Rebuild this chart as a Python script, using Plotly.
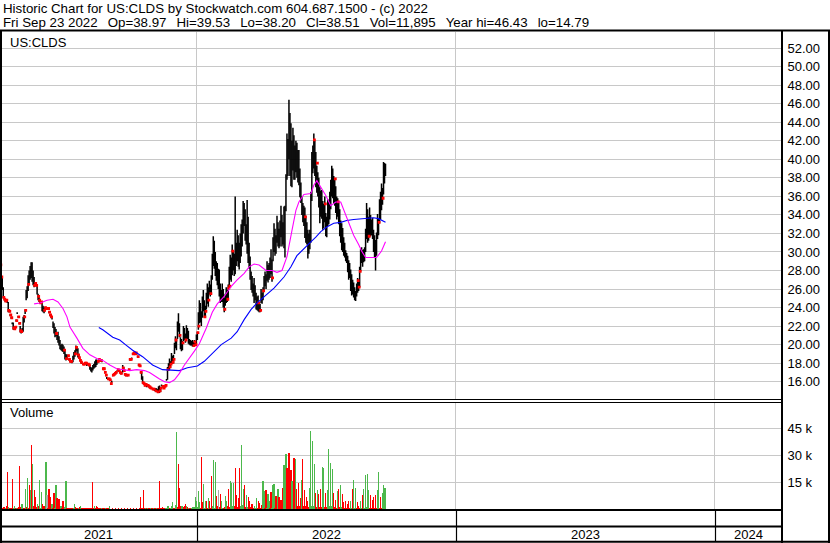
import pandas as pd
import plotly.graph_objects as go

# ---------------- data ----------------
last_day = "2022-09-23"

high = [
    28.9, 28.0, 27.4, 26.2, 25.0, 24.8, 24.9, 24.7, 24.6, 23.7,
    23.3, 23.0, 22.4, 22.4, 21.8, 22.0, 22.7, 23.5, 23.1, 22.4,
    22.0, 21.6, 21.8, 23.0, 23.2, 23.8, 25.9, 26.3, 27.5, 28.0,
    28.5, 28.9, 28.9, 28.0, 27.3, 26.7, 26.5, 26.5, 25.5, 25.3,
    24.6, 24.7, 24.6, 24.2, 24.0, 24.1, 24.0, 24.0, 24.0, 23.6,
    23.3, 23.1, 22.9, 22.5, 22.3, 21.9, 21.7, 21.3, 21.4, 20.9,
    20.5, 20.0, 20.1, 20.0, 19.8, 19.5, 19.0, 18.9, 18.9, 18.5,
    18.3, 18.3, 18.2, 18.8, 19.2, 19.4, 19.9, 19.8, 19.6, 19.0,
    18.4, 18.2, 18.1, 18.0, 18.0, 18.1, 18.1, 17.9, 18.0, 17.9,
    17.8, 17.6, 17.5, 17.8, 17.9, 18.2, 18.4, 18.4, 18.3, 18.5,
    18.4, 18.4, 18.3, 17.5, 17.5, 17.1, 16.8, 16.5, 16.4, 16.4,
    16.3, 15.9, 16.1, 16.8, 16.9, 17.0, 17.1, 17.2, 17.4, 17.3,
    17.1, 17.0, 17.0, 17.8, 17.6, 16.9, 16.8, 16.8, 16.8, 17.4,
    18.5, 18.5, 18.6, 19.1, 19.2, 19.1, 19.2, 19.1, 18.8, 17.9,
    17.8, 17.1, 17.1, 16.6, 15.9, 15.7, 15.8, 15.6, 15.7, 15.6,
    15.5, 15.4, 15.4, 15.3, 15.3, 15.3, 15.3, 15.3, 15.2, 15.5,
    15.6, 15.4, 15.7, 15.6, 15.4, 15.6, 15.7, 16.3, 17.6, 18.0,
    18.5, 18.2, 19.1, 18.8, 18.9, 20.2, 20.9, 20.6, 22.5, 23.4,
    22.3, 20.8, 20.6, 20.4, 22.0, 21.8, 21.2, 22.1, 21.8, 21.5,
    20.6, 20.5, 20.4, 20.5, 20.3, 20.5, 20.4, 21.1, 21.4, 23.5,
    24.8, 24.5, 23.6, 25.2, 25.9, 24.8, 24.2, 25.6, 26.6, 26.2,
    26.9, 26.5, 27.5, 29.8, 31.7, 31.2, 30.0, 29.0, 28.8, 28.2,
    28.1, 26.6, 25.9, 26.6, 26.0, 25.1, 25.5, 26.2, 25.9, 26.5,
    28.4, 29.7, 29.4, 30.8, 30.2, 29.8, 36.0, 31.0, 32.4, 31.8,
    31.0, 32.0, 33.0, 33.5, 35.5, 35.3, 34.6, 33.0, 35.6, 33.8,
    31.0, 29.5, 27.9, 27.4, 26.6, 27.2, 26.4, 25.6, 25.2, 25.3,
    24.6, 24.4, 26.0, 25.6, 26.2, 27.4, 27.9, 27.6, 29.0, 28.6,
    28.8, 29.4, 30.3, 29.2, 31.6, 33.1, 32.5, 31.8, 33.9, 33.2,
    32.5, 33.4, 35.0, 34.0, 33.2, 34.9, 35.0, 38.4, 42.8, 42.2,
    46.43, 45.0, 43.9, 42.0, 43.4, 42.6, 41.5, 42.0, 41.8, 41.0,
    41.0, 39.0, 37.5, 36.0, 35.3, 35.0, 34.8, 33.9, 33.2, 32.4,
    32.0, 32.4, 36.5, 40.8, 41.5, 42.8, 42.0, 40.8, 39.3, 38.6,
    38.0, 37.0, 36.6, 36.7, 35.5, 35.2, 36.0, 34.2, 33.8, 35.7,
    35.4, 36.5, 37.8, 39.3, 39.0, 38.2, 37.9, 37.1, 36.0, 35.8,
    35.3, 34.6, 33.4, 33.1, 32.6, 31.6, 31.0, 30.2, 29.9, 29.6,
    29.1, 28.8, 28.1, 27.6, 27.0, 26.7, 26.2, 25.8, 26.6, 27.2,
    27.0, 28.4, 30.3, 30.5, 30.2, 30.3, 30.5, 32.5, 35.3, 34.6,
    33.8, 34.8, 34.0, 33.5, 33.7, 32.4, 31.8, 31.3, 32.1, 34.1,
    33.6, 35.7, 36.5, 37.4, 36.9, 39.7, 39.6, 39.53,
]

low = [
    27.0, 26.2, 25.9, 25.0, 24.8, 24.6, 24.7, 24.5, 23.5, 23.5,
    23.1, 22.8, 22.2, 21.6, 21.6, 21.8, 22.5, 23.3, 22.9, 22.2,
    21.3, 21.2, 21.3, 21.4, 22.4, 23.3, 24.8, 25.0, 25.8, 26.5,
    27.0, 27.2, 26.8, 26.4, 26.2, 26.5, 26.3, 25.4, 24.8, 24.6,
    24.4, 24.5, 23.6, 23.5, 23.4, 23.6, 23.8, 23.8, 23.8, 23.4,
    23.1, 22.9, 22.7, 21.8, 21.2, 20.8, 20.9, 20.5, 20.2, 19.9,
    19.5, 19.4, 19.3, 19.2, 19.0, 18.4, 18.3, 18.4, 18.7, 18.3,
    18.1, 18.1, 18.0, 18.1, 18.4, 18.7, 19.0, 19.3, 18.6, 18.5,
    18.2, 18.0, 17.9, 17.8, 17.8, 17.9, 17.9, 17.7, 17.8, 17.7,
    17.3, 17.1, 17.0, 17.2, 17.4, 17.5, 17.6, 17.8, 18.0, 18.3,
    18.2, 18.2, 18.1, 17.3, 17.3, 16.9, 16.6, 16.3, 16.2, 16.2,
    16.1, 15.7, 15.9, 16.6, 16.7, 16.8, 16.9, 17.0, 17.2, 17.1,
    16.9, 16.8, 16.8, 17.0, 17.1, 16.7, 16.6, 16.6, 16.6, 17.2,
    18.3, 18.3, 18.4, 18.9, 19.0, 18.9, 19.0, 18.9, 18.6, 17.7,
    17.6, 16.9, 16.2, 15.8, 15.7, 15.5, 15.6, 15.4, 15.5, 15.4,
    15.3, 15.2, 15.2, 15.1, 15.1, 15.0, 14.9, 14.9, 14.8, 14.8,
    14.79, 14.9, 15.5, 15.4, 15.2, 15.4, 15.5, 16.1, 16.2, 17.2,
    17.3, 17.5, 18.0, 17.9, 18.0, 19.0, 19.6, 19.4, 20.6, 21.4,
    20.8, 19.5, 19.3, 19.4, 20.4, 20.5, 20.2, 20.6, 20.6, 20.1,
    20.0, 19.9, 19.9, 19.8, 19.8, 19.9, 19.9, 20.1, 20.5, 21.6,
    22.3, 22.4, 22.0, 22.9, 23.6, 22.9, 22.9, 23.8, 24.4, 24.1,
    25.4, 25.2, 25.5, 27.0, 28.5, 28.2, 27.4, 26.9, 26.4, 26.0,
    25.2, 24.5, 24.6, 24.6, 24.0, 23.5, 24.2, 24.5, 24.6, 24.8,
    26.0, 27.0, 26.8, 27.5, 28.0, 27.4, 27.6, 28.5, 29.0, 28.4,
    28.1, 28.8, 29.5, 30.6, 32.0, 32.8, 31.2, 30.8, 29.8, 28.8,
    28.2, 27.0, 25.9, 25.6, 25.2, 24.5, 24.8, 23.8, 23.7, 23.6,
    23.5, 23.5, 24.5, 24.4, 24.8, 25.8, 26.3, 26.0, 26.9, 26.7,
    27.0, 27.2, 27.6, 26.8, 29.0, 30.0, 29.6, 29.8, 31.0, 30.6,
    30.4, 30.6, 31.6, 30.6, 30.8, 30.4, 29.4, 34.4, 37.8, 38.2,
    40.0, 38.2, 37.1, 37.0, 38.8, 37.8, 37.8, 38.6, 38.0, 37.5,
    37.2, 35.9, 35.3, 34.0, 33.2, 32.8, 31.5, 31.0, 30.8, 29.3,
    29.8, 30.3, 31.0, 35.5, 38.5, 39.0, 38.2, 37.0, 36.4, 36.0,
    34.8, 33.1, 33.8, 33.6, 32.4, 32.6, 33.2, 31.7, 31.6, 32.8,
    33.0, 33.5, 34.6, 36.0, 35.8, 35.2, 35.0, 34.2, 33.5, 33.8,
    33.0, 31.7, 31.0, 30.2, 30.0, 29.6, 29.4, 29.0, 28.8, 27.8,
    27.0, 27.2, 25.8, 25.3, 25.4, 25.1, 24.8, 24.7, 25.2, 25.6,
    25.8, 26.2, 27.9, 28.8, 28.4, 28.9, 29.0, 30.0, 31.4, 31.0,
    31.2, 31.6, 31.7, 31.8, 31.4, 30.0, 29.4, 28.0, 29.6, 31.4,
    31.8, 33.1, 33.5, 34.5, 35.1, 36.2, 37.4, 38.20,
]

close = [
    28.6, 27.3, 26.0, 25.1, 24.9, 24.7, 24.8, 24.6, 23.7, 23.6,
    23.2, 22.9, 22.3, 21.8, 21.7, 21.9, 22.6, 23.4, 23.0, 22.3,
    21.5, 21.4, 21.6, 22.8, 23.0, 23.7, 25.5, 25.2, 26.5, 27.5,
    28.2, 27.8, 27.0, 26.6, 26.4, 26.6, 26.4, 25.6, 25.2, 24.8,
    24.5, 24.6, 23.9, 23.8, 23.7, 24.0, 23.9, 23.9, 23.9, 23.5,
    23.2, 23.0, 22.8, 22.1, 21.6, 21.5, 21.2, 20.8, 20.5, 20.2,
    19.7, 19.6, 19.5, 19.6, 19.4, 18.6, 18.5, 18.7, 18.8, 18.4,
    18.2, 18.2, 18.1, 18.6, 18.9, 19.0, 19.7, 19.5, 18.9, 18.6,
    18.3, 18.1, 18.0, 17.9, 17.9, 18.0, 18.0, 17.8, 17.9, 17.8,
    17.4, 17.3, 17.2, 17.6, 17.7, 18.0, 18.0, 18.2, 18.2, 18.4,
    18.3, 18.3, 18.2, 17.4, 17.4, 17.0, 16.7, 16.4, 16.3, 16.3,
    16.2, 15.8, 16.0, 16.7, 16.8, 16.9, 17.0, 17.1, 17.3, 17.2,
    17.0, 16.9, 16.9, 17.5, 17.2, 16.8, 16.7, 16.7, 16.7, 17.3,
    18.4, 18.4, 18.5, 19.0, 19.1, 19.0, 19.1, 19.0, 18.7, 17.8,
    17.7, 17.0, 16.4, 15.9, 15.8, 15.6, 15.7, 15.5, 15.6, 15.5,
    15.4, 15.3, 15.3, 15.2, 15.2, 15.1, 15.0, 15.2, 14.9, 15.3,
    15.0, 15.3, 15.6, 15.5, 15.3, 15.5, 15.6, 16.2, 17.3, 17.6,
    17.6, 17.9, 18.6, 18.1, 18.4, 20.0, 20.5, 19.8, 22.2, 21.8,
    21.0, 20.1, 19.6, 20.2, 21.6, 20.7, 20.5, 21.4, 21.1, 20.4,
    20.2, 20.1, 20.0, 20.1, 19.9, 20.3, 20.0, 20.9, 21.3, 22.0,
    23.4, 22.8, 22.3, 24.8, 24.1, 23.0, 23.6, 24.8, 25.3, 24.8,
    25.9, 25.5, 26.8, 29.1, 30.6, 29.4, 28.1, 27.2, 27.0, 26.6,
    25.4, 25.2, 25.0, 25.6, 24.1, 23.8, 24.9, 25.6, 24.9, 26.1,
    26.3, 28.9, 27.0, 30.1, 29.3, 28.1, 30.5, 29.5, 30.8, 30.2,
    29.0, 31.2, 31.8, 32.8, 35.1, 34.0, 32.0, 31.5, 30.2, 29.2,
    28.3, 27.4, 26.5, 26.0, 25.4, 25.6, 25.0, 24.1, 24.9, 24.5,
    23.8, 23.7, 24.9, 25.2, 25.8, 26.9, 27.2, 26.5, 28.1, 27.8,
    28.3, 28.8, 28.5, 27.2, 30.6, 31.7, 30.2, 31.3, 32.1, 30.8,
    31.6, 32.4, 33.3, 31.7, 32.0, 30.5, 34.6, 37.5, 39.6, 41.2,
    42.5, 39.8, 37.2, 40.5, 40.3, 38.9, 40.6, 39.5, 38.9, 38.5,
    38.0, 36.6, 36.2, 34.8, 33.7, 34.0, 33.8, 32.8, 31.7, 31.0,
    30.5, 31.2, 35.8, 40.0, 40.4, 42.1, 40.5, 38.5, 39.6, 36.8,
    35.9, 35.0, 34.5, 33.8, 33.2, 34.4, 35.2, 32.1, 33.0, 33.9,
    35.0, 35.8, 36.7, 38.0, 37.9, 36.6, 37.9, 35.5, 34.4, 35.4,
    34.3, 31.9, 33.1, 30.5, 30.6, 30.0, 29.6, 29.7, 29.4, 28.3,
    27.6, 27.3, 26.7, 26.2, 25.9, 25.8, 25.6, 25.2, 26.0, 26.9,
    26.2, 27.9, 29.6, 29.9, 29.3, 30.0, 30.2, 32.3, 34.3, 32.1,
    31.7, 33.0, 32.4, 32.0, 31.8, 31.0, 30.2, 28.4, 31.7, 32.9,
    33.2, 34.2, 35.7, 35.8, 35.8, 38.6, 38.97, 38.51,
]

# daily volume, thousands of shares
volume_k = [
    7.9, 15.4, 1.0, 1.3, 1.2, 0.8, 2.0, 21.0, 1.3, 1.0,
    0.8, 0.9, 16.9, 1.0, 2.2, 0.8, 1.1, 0.9, 1.2, 24.2,
    1.4, 3.2, 3.0, 1.0, 1.0, 11.6, 1.5, 17.8, 0.8, 13.5,
    11.0, 36.0, 25.3, 2.0, 11.0, 6.9, 1.5, 3.0, 1.7, 16.3,
    1.0, 9.8, 3.2, 0.9, 2.2, 0.8, 26.6, 8.3, 1.0, 11.3,
    6.9, 0.9, 2.8, 1.0, 9.2, 1.0, 13.5, 6.4, 1.0, 5.6,
    1.2, 2.2, 1.0, 5.0, 1.0, 1.4, 16.0, 1.0, 0.9, 0.8,
    0.9, 0.8, 0.9, 0.8, 1.0, 2.8, 1.3, 0.9, 0.8, 0.9,
    1.3, 1.7, 0.9, 0.8, 0.8, 0.7, 0.8, 0.8, 0.7, 0.8,
    0.8, 0.8, 0.9, 15.4, 1.0, 2.2, 1.0, 1.7, 1.5, 1.0,
    0.8, 0.7, 0.6, 0.7, 0.6, 0.7, 0.6, 0.7, 0.6, 0.7,
    2.2, 0.5, 0.5, 0.6, 0.5, 0.5, 0.6, 0.5, 0.5, 0.6,
    0.5, 0.5, 0.6, 0.5, 0.5, 0.6, 0.5, 0.5, 0.6, 0.5,
    0.5, 0.6, 0.5, 0.5, 0.6, 0.5, 0.5, 0.6, 0.5, 0.5,
    0.6, 6.9, 0.7, 0.6, 10.7, 0.8, 1.0, 0.9, 0.8, 0.9,
    0.8, 0.9, 0.8, 0.9, 0.8, 0.9, 0.8, 0.9, 1.0, 0.9,
    16.0, 0.9, 0.8, 1.3, 0.8, 0.9, 0.9, 0.9, 2.2, 1.7,
    0.8, 1.0, 2.2, 4.1, 1.0, 0.9, 2.5, 43.0, 1.5, 25.3,
    12.2, 1.7, 2.2, 2.2, 1.3, 2.0, 3.2, 2.2, 1.3, 1.0,
    0.9, 1.0, 1.0, 1.4, 1.2, 1.5, 6.9, 5.0, 1.5, 10.3,
    4.1, 1.0, 29.4, 4.0, 14.4, 1.0, 5.0, 4.7, 1.0, 6.6,
    5.0, 1.0, 18.6, 2.0, 27.6, 1.0, 26.6, 7.3, 2.0, 11.0,
    1.5, 8.8, 5.0, 1.0, 1.0, 1.5, 7.3, 5.0, 2.0, 11.6,
    1.5, 15.8, 14.8, 2.0, 14.8, 2.0, 22.9, 8.3, 1.5, 6.4,
    22.9, 2.0, 36.0, 2.5, 11.6, 13.5, 1.5, 7.9, 1.5, 6.9,
    5.0, 1.5, 3.2, 2.8, 1.0, 2.2, 1.0, 6.6, 1.0, 4.7,
    3.8, 1.0, 2.6, 1.0, 15.8, 10.3, 1.0, 11.0, 1.0, 8.8,
    5.0, 1.0, 9.8, 1.0, 13.5, 14.4, 1.0, 7.3, 1.0, 11.6,
    6.9, 1.0, 5.4, 1.0, 12.2, 24.8, 1.5, 30.9, 22.9, 2.0,
    31.7, 2.0, 21.9, 15.8, 2.0, 28.5, 2.0, 27.9, 11.6, 2.0,
    14.8, 2.0, 6.4, 16.3, 27.9, 2.0, 11.0, 2.0, 6.9, 5.0,
    1.5, 12.2, 44.0, 2.0, 38.4, 2.0, 25.3, 9.2, 1.5, 10.7,
    8.4, 1.5, 11.6, 1.5, 23.8, 22.9, 1.5, 9.2, 1.5, 10.7,
    33.6, 2.0, 25.7, 2.0, 22.3, 9.2, 1.5, 5.4, 1.0, 10.3,
    11.6, 1.5, 13.5, 1.5, 8.4, 4.1, 1.0, 4.7, 1.0, 3.2,
    4.7, 1.0, 4.7, 1.0, 11.6, 16.7, 1.0, 12.2, 1.0, 4.1,
    1.7, 1.0, 5.0, 1.0, 7.9, 11.6, 1.0, 19.1, 1.5, 19.7,
    11.0, 1.0, 8.3, 1.0, 5.4, 6.9, 1.0, 7.9, 1.0, 10.7,
    21.0, 1.0, 6.9, 1.0, 9.2, 13.5, 12.2, 11.895,
]

# day direction for volume colour: g = up, r = down, n = unchanged
vol_dir = (
    "nrrrrgrrgr" "rrrggrgrrr" "rggrrgrgrr" "grgrrrrgrg" "ggrrrrgnrr"
    "rrgrrggrrr" "rgrrrggrrr" "rrrrggrrrg" "rgrrrrrrrr" "rrrrrgrrrr"
    "rrgrrrgrrr" "grrrrrrrrr" "rrrrrrrrrr" "rrrrrrrrrr" "rrrrrrgrgr"
    "rgrrgrrgrr" "rrrrrrgggg" "rgggrrggrr" "rrggrrrgrg" "rrgggggggg"
    "grrrgggrrg" "rrrggggrrn" "rrggrrggrr" "rggggrrrrr" "rggggrrggr"
    "rrrrrgggrr" "rrrgggrrgg" "grrgggrrrg" "rrrrrgggrr" "rrrggrrgrr"
    "rrrgrrrrrr" "rggggggrrg" "rrrrggrrrg" "gggggrrrrg" "rrggrrrrrr"
    "rrggrgggrr" "rrggrggggg" "grrrrrrrrg" "grrrgggg"
)

# moving averages as drawn (trading-day number, value)
ma_fast_idx = [34, 40, 47, 53, 58, 63, 67, 70, 77, 83, 90, 97, 103, 110, 117,
               123, 130, 137, 145, 150, 155, 160, 165, 170, 175, 180, 185,
               190, 195, 200, 207, 213, 218, 225, 232, 238, 245, 250, 255,
               260, 267, 273, 278, 283, 288, 293, 297, 300, 305, 312, 315,
               318, 322, 327, 332, 337, 342, 345, 350, 355, 360, 363, 367,
               372, 378, 383, 387]
ma_fast = [24.4, 24.5, 24.8, 24.9, 24.6, 23.9, 23.0, 21.9, 20.7, 19.6, 18.9,
           18.5, 18.3, 17.8, 17.4, 17.3, 17.2, 17.3, 17.2, 17.0, 16.6, 16.3,
           16.0, 15.9, 16.2, 16.9, 17.8, 18.5, 19.3, 20.1, 21.8, 23.5, 24.4,
           25.2, 26.3, 27.0, 27.7, 28.4, 28.7, 28.6, 28.0, 28.0, 27.8, 28.0,
           29.5, 32.3, 34.5, 35.4, 36.2, 36.3, 37.2, 37.7, 37.0, 36.1, 35.0,
           35.4, 35.4, 34.6, 33.1, 31.8, 30.8, 30.1, 29.4, 29.4, 29.4, 30.1,
           31.1]
ma_slow_idx = [99, 103, 113, 120, 127, 133, 143, 153, 163, 173, 180, 188, 198,
               205, 213, 222, 232, 238, 245, 252, 258, 265, 275, 285, 292,
               298, 305, 312, 317, 322, 328, 335, 342, 348, 355, 365, 375,
               380, 383, 387]
ma_slow = [21.85, 21.6, 20.8, 20.5, 19.9, 19.4, 18.7, 17.8, 17.3, 17.2, 17.2,
           17.5, 17.7, 18.2, 19.1, 20.0, 20.7, 21.4, 22.7, 23.8, 24.5, 25.2,
           26.1, 27.3, 28.4, 29.6, 30.4, 31.1, 31.6, 32.2, 32.7, 33.1, 33.2,
           33.4, 33.5, 33.6, 33.7, 33.6, 33.4, 33.2]

price_ticks = list(range(16, 54, 2))
vol_ticks = [15000, 30000, 45000]
vol_tick_text = ["15 k", "30 k", "45 k"]
year_labels = ["2021", "2022", "2023", "2024"]
year_starts = ["2022-01-03", "2023-01-02", "2024-01-01"]

GAP = "\u00a0\u00a0\u2009"
header1 = "Historic Chart for US:CLDS by Stockwatch.com 604.687.1500 - (c) 2022"
header2 = GAP.join(["Fri Sep 23 2022", "Op=38.97", "Hi=39.53", "Lo=38.20",
                    "Cl=38.51", "Vol=11,895", "Year hi=46.43", "lo=14.79"])
symbol_label = "US:CLDS"
volume_label = "Volume"

# ---------------- layout geometry (pixels) ----------------
W, H = 830, 543
FONT = "Liberation Sans, Arial, sans-serif"
X_LEFT, X_RIGHT = 2, 781.5          # plot area left / right
P_TOP, P_BOT = 31.5, 399.5          # price panel
V_TOP, V_BOT = 402.5, 509.5         # volume panel


def fx(px):
    return px / W


def fy(py):
    return 1 - py / H


# price scale: 16.00 gridline at 381.7 px, 9.265 px per dollar
PX_PER_DOLLAR = 9.265


def price_at(py):
    return 16 + (381.7 - py) / PX_PER_DOLLAR


# volume scale: 0 at bottom, 45k at 428.7 px
v_per_px = 45000 / (V_BOT - 428.7)
vol_max = (V_BOT - V_TOP) * v_per_px

n = len(close)
dates = pd.bdate_range(end=last_day, periods=n) + pd.Timedelta(hours=12)
tick_dates = dates + pd.Timedelta(hours=14)   # close tick sits just right of its bar

hl_x, hl_y = [], []
for d, lo, hi in zip(dates, low, high):
    hl_x += [d, d, None]
    hl_y += [lo, hi, None]

# the next day's bar is painted over the close tick when it covers the whole tick
half_tick = 1.3 / PX_PER_DOLLAR
tick_x, tick_y = [], []
for i in range(n):
    hidden = (i + 1 < n and low[i + 1] + half_tick <= close[i] <= high[i + 1] - half_tick)
    if not hidden:
        tick_x.append(tick_dates[i])
        tick_y.append(close[i])

colmap = {"g": "#4cb84c", "r": "#ff0000", "n": "#a8a8a8"}

fig = go.Figure()
fig.add_trace(go.Scatter(x=hl_x, y=hl_y, mode="lines",
                         line=dict(color="#000000", width=1.5),
                         xaxis="x", yaxis="y", hoverinfo="skip", showlegend=False))
fig.add_trace(go.Scatter(x=tick_x, y=tick_y, mode="markers",
                         marker=dict(symbol="square", size=2.8, color="#ff0000",
                                     line=dict(width=0)),
                         xaxis="x", yaxis="y", hoverinfo="skip", showlegend=False))
fig.add_trace(go.Scatter(x=[dates[i] for i in ma_slow_idx], y=ma_slow, mode="lines",
                         line=dict(color="#0000ff", width=1.1),
                         xaxis="x", yaxis="y", hoverinfo="skip", showlegend=False))
fig.add_trace(go.Scatter(x=[dates[i] for i in ma_fast_idx], y=ma_fast, mode="lines",
                         line=dict(color="#ff00ff", width=1.1),
                         xaxis="x", yaxis="y", hoverinfo="skip", showlegend=False))
fig.add_trace(go.Bar(x=dates, y=[v * 1000 for v in volume_k],
                     marker=dict(color=[colmap[c] for c in vol_dir], line=dict(width=0)),
                     width=86400000 * 1.15,
                     xaxis="x2", yaxis="y2", hoverinfo="skip", showlegend=False))

grid = "#c8c8c8"
xcommon = dict(type="date", rangebreaks=[dict(bounds=["sat", "mon"])],
               tickvals=year_starts, showticklabels=False, ticks="",
               showgrid=True, gridcolor=grid, gridwidth=1, zeroline=False,
               showline=False, fixedrange=True, domain=[fx(X_LEFT), fx(X_RIGHT)])

fig.update_layout(
    width=W, height=H, margin=dict(l=0, r=0, t=0, b=0),
    paper_bgcolor="white", plot_bgcolor="white",
    showlegend=False, bargap=0,
    font=dict(family=FONT, size=13, color="#000000"),
    xaxis=dict(**xcommon, anchor="y", range=["2021-04-02 06:00", "2024-04-03 07:00"]),
    xaxis2=dict(**xcommon, anchor="y2", matches="x"),
    yaxis=dict(domain=[fy(P_BOT), fy(P_TOP)], range=[price_at(P_BOT), price_at(P_TOP)],
               side="right", anchor="x", tickvals=price_ticks,
               ticktext=[f"{t:.2f}" for t in price_ticks], ticks="",
               ticklabelstandoff=5,
               showgrid=True, gridcolor=grid, gridwidth=1, zeroline=False,
               showline=False, fixedrange=True,
               tickfont=dict(family=FONT, size=13, color="#000000")),
    yaxis2=dict(domain=[fy(V_BOT), fy(V_TOP)], range=[0, vol_max],
                side="right", anchor="x2", tickvals=vol_ticks, ticktext=vol_tick_text,
                ticks="", ticklabelstandoff=5,
                showgrid=True, gridcolor=grid, gridwidth=1, zeroline=False,
                showline=False, fixedrange=True,
                tickfont=dict(family=FONT, size=13, color="#000000")),
)

shapes = []


def hline(py, x0, x1, w):
    shapes.append(dict(type="line", xref="paper", yref="paper",
                       x0=fx(x0), x1=fx(x1), y0=fy(py), y1=fy(py),
                       line=dict(color="#000000", width=w)))


def vline(px, y0, y1, w):
    shapes.append(dict(type="line", xref="paper", yref="paper",
                       x0=fx(px), x1=fx(px), y0=fy(y0), y1=fy(y1),
                       line=dict(color="#000000", width=w)))


hline(30.5, 0, W, 2)          # top frame
hline(399.5, 0, 782, 1)       # price / volume double rule
hline(402.5, 0, 782, 1)
hline(510, 0, 782, 2)         # volume bottom
hline(526.5, 0, 782, 2)       # date row top
hline(541.8, 0, W, 2)         # bottom frame
vline(1, 30, H, 2)            # left frame
vline(782, 30, H, 2)          # right axis rule
vline(829, 30, H, 2)          # right frame
for px in (197.5, 456.5, 715.5):
    vline(px, 510, 542, 1.2)  # year separators in the date rows

annotations = [
    dict(text=header1, x=fx(1), y=fy(8.5), size=13.3),
    dict(text=header2, x=fx(1), y=fy(22.5), size=13.3),
    dict(text=symbol_label, x=fx(8), y=fy(42), size=13),
    dict(text=volume_label, x=fx(8), y=fy(413), size=13),
]
for a in annotations:
    sz = a.pop("size")
    a.update(xref="paper", yref="paper", xanchor="left", yanchor="middle",
             showarrow=False, font=dict(family=FONT, size=sz, color="#000000"))

year_centres = [98.5, 326.5, 585.5, 748.5]
for lab, cx in zip(year_labels, year_centres):
    annotations.append(dict(text=lab, x=fx(cx), y=fy(534.5), xref="paper", yref="paper",
                            xanchor="center", yanchor="middle", showarrow=False,
                            font=dict(family=FONT, size=13, color="#000000")))

fig.update_layout(shapes=shapes, annotations=annotations)

fig.write_html("out.html", config={"displayModeBar": False, "staticPlot": True},
               post_script="document.body.style.margin='0';document.body.style.overflow='hidden';")
